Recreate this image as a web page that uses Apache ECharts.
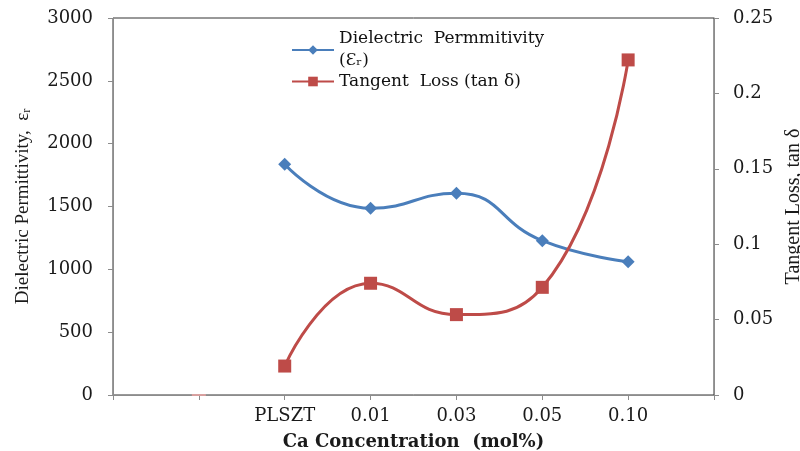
<!DOCTYPE html>
<html><head><meta charset="utf-8">
<script src="https://cdn.jsdelivr.net/npm/echarts@6/dist/echarts.min.js"></script>
<style>html,body{margin:0;padding:0;background:#fff}#c{width:800px;height:451px}</style>
</head><body><div id="c"></div>
<script>
const categories = ['', '', 'PLSZT', '0.01', '0.03', '0.05', '0.10', ''];
const permittivity = [null, null, 1836, 1486, 1605, 1228, 1061, null];
const tangentLoss = [null, null, 0.0192, 0.0741, 0.0533, 0.0714, 0.2222, null];
const strayPoint = [null, 0, null, null, null, null, null, null];
const leftTicks = [0, 3000, 500];
const rightTicks = [0, 0.25, 0.05];

const serifNum = 'DejaVu Serif';
const times = 'Liberation Serif';
const chart = echarts.init(document.getElementById('c'));
chart.setOption({
  animation: false,
  grid: { left: 113, right: 86, top: 18, bottom: 56, show: true, borderColor: '#333', borderWidth: 1,
    containLabel: false, outerBoundsMode: 'none' },
  legend: [
    { data: ['Dielectric  Permmitivity\n(Ɛ\u1d63)'], left: 286, top: 23, itemWidth: 42, itemHeight: 12,
      textStyle: { fontFamily: serifNum, fontSize: 17, color: '#111', lineHeight: 22 } },
    { data: ['Tangent  Loss (tan δ)'], left: 286, top: 68, itemWidth: 42, itemHeight: 12,
      textStyle: { fontFamily: serifNum, fontSize: 17, color: '#111' } }
  ],
  xAxis: {
    type: 'category', data: categories, boundaryGap: false,
    axisLine: { lineStyle: { color: '#8c8c8c' } },
    axisTick: { show: true, length: 5, lineStyle: { color: '#8c8c8c' }, alignWithLabel: true },
    axisLabel: { fontFamily: serifNum, fontSize: 18, color: '#1a1a1a', margin: 12, interval: 0 },
    name: 'Ca Concentration  (mol%)', nameLocation: 'middle', nameGap: 38,
    nameTextStyle: { fontFamily: serifNum, fontSize: 18, fontWeight: 'bold', color: '#1a1a1a' },
    splitLine: { show: false }
  },
  yAxis: [
    { type: 'value', min: leftTicks[0], max: leftTicks[1], interval: leftTicks[2], position: 'left',
      axisLine: { show: true, lineStyle: { color: '#8c8c8c' } },
      axisTick: { show: true, length: 5, lineStyle: { color: '#8c8c8c' } },
      axisLabel: { fontFamily: serifNum, fontSize: 18, color: '#1a1a1a', margin: 20, formatter: v => String(v) },
      splitLine: { show: false },
      name: 'Dielectric Permittivity,  ε{s|r}', nameLocation: 'middle', nameGap: 80, nameRotate: 90,
      nameTextStyle: { fontFamily: times, fontSize: 19, color: '#1a1a1a',
        rich: { s: { fontFamily: times, fontSize: 12, color: '#1a1a1a', verticalAlign: 'bottom', padding: [8, 0, 0, 0] } } }
    },
    { type: 'value', min: rightTicks[0], max: rightTicks[1], interval: rightTicks[2], position: 'right',
      axisLine: { show: true, lineStyle: { color: '#8c8c8c' } },
      axisTick: { show: true, length: 5, lineStyle: { color: '#8c8c8c' } },
      axisLabel: { fontFamily: serifNum, fontSize: 18, color: '#1a1a1a', margin: 19, formatter: v => String(v) },
      splitLine: { show: false },
      name: 'Tangent Loss, tan δ', nameLocation: 'middle', nameGap: 63, nameRotate: 90,
      nameTextStyle: { fontFamily: times, fontSize: 20, color: '#1a1a1a' }
    }
  ],
  series: [
    { name: 'Dielectric  Permmitivity\n(Ɛ\u1d63)', type: 'line', yAxisIndex: 0, data: permittivity, smooth: 0.5,
      symbol: 'diamond', symbolSize: 13, lineStyle: { width: 3, color: '#4a7ebb' },
      itemStyle: { color: '#4a7ebb' }, z: 3 },
    { name: 'Tangent  Loss (tan δ)', type: 'line', yAxisIndex: 1, data: tangentLoss, smooth: 0.5,
      symbol: 'rect', symbolSize: 13, lineStyle: { width: 3, color: '#be4b48' },
      itemStyle: { color: '#be4b48' }, z: 4 },
    { name: 'stray', type: 'scatter', yAxisIndex: 1, data: strayPoint, symbol: 'rect', symbolSize: [14, 2],
      itemStyle: { color: '#e8a3a1' }, silent: true, z: 5 }
  ]
});
</script></body></html>
